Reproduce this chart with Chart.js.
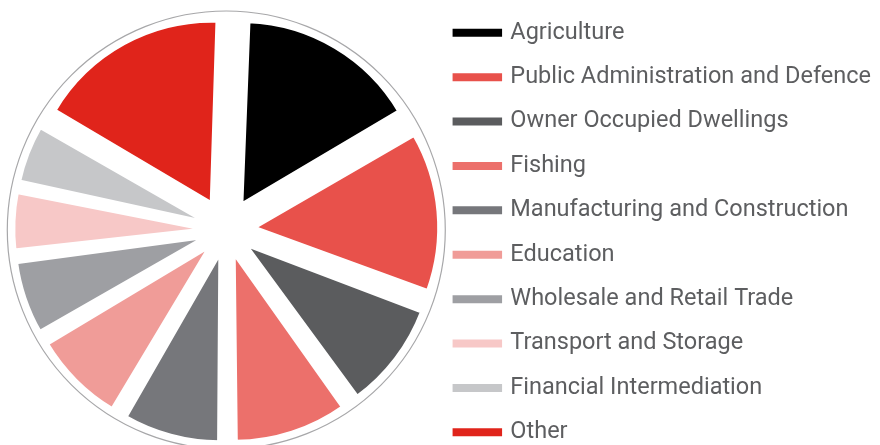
<!DOCTYPE html>
<html>
<head>
<meta charset="utf-8">
<script src="https://cdn.jsdelivr.net/npm/chart.js@4.4.1/dist/chart.umd.min.js"></script>
<style>
  html, body { margin: 0; padding: 0; background: #fff; overflow: hidden; }
  #wrap { position: relative; width: 880px; height: 445px; overflow: hidden; }
  #wrap canvas { position: absolute; left: 0; top: -5px; }
</style>
</head>
<body>
<div id="wrap"><canvas id="pie-chart" width="890" height="470"></canvas></div>
<script>
// GDP share by sector (%)
const sectorLabels = [
  "Agriculture",
  "Public Administration and Defence",
  "Owner Occupied Dwellings",
  "Fishing",
  "Manufacturing and Construction",
  "Education",
  "Wholesale and Retail Trade",
  "Transport and Storage",
  "Financial Intermediation",
  "Other",
];
const sectorShares = [16, 14.1, 9.4, 9.9, 8.5, 8.1, 6.5, 5.2, 5.2, 17.1];
const sectorColours = [
  "#000000",
  "#e8514b",
  "#5b5c5e",
  "#ec706b",
  "#76777b",
  "#f09c98",
  "#9e9fa3",
  "#f7c8c7",
  "#c6c7c9",
  "#e0241b",
];

const total = sectorShares.reduce((a, b) => a + b, 0);
const PUSH = 34; // how far slices are pushed out from the centre
const EDGE = 213; // outer edge of the slices
const RING = 219; // thin grey ring round the pie

// thin grey circle drawn round the whole pie
const outerRing = {
  id: "outerRing",
  beforeDatasetsDraw(chart) {
    const arc = chart.getDatasetMeta(0).data[0];
    if (!arc) return;
    const ctx = chart.ctx;
    ctx.save();
    ctx.beginPath();
    ctx.arc(arc.x, arc.y, RING, 0, Math.PI * 2);
    ctx.lineWidth = 1.2;
    ctx.strokeStyle = "#a7a7a9";
    ctx.stroke();
    ctx.restore();
  },
};

const pieCtx = document.getElementById("pie-chart").getContext("2d");

const pieChart = new Chart(pieCtx, {
  type: "pie",
  data: {
    labels: sectorLabels,
    datasets: [
      {
        data: sectorShares,
        backgroundColor: sectorColours,
        borderColor: "#ffffff",
        borderWidth: 4,
        // thin slices get pushed less so every outer arc ends on the same circle
        offset: (ctx) => {
          const angle = (ctx.raw / total) * Math.PI * 2;
          const fix = 1 - Math.sin(Math.min(Math.PI, angle));
          return (4 * PUSH) / (1 + fix);
        },
        hoverOffset: 0,
      },
    ],
  },
  options: {
    responsive: false,
    animation: false,
    rotation: 2,
    radius: EDGE - PUSH,
    layout: { padding: { left: 0, right: 9 } },
    plugins: {
      tooltip: { enabled: false },
      legend: {
        position: "right",
        align: "end",
        labels: {
          boxWidth: 44,
          boxHeight: 1,
          // row spacing comes from the line height, padding stays small
          padding: 2,
          color: "#5d5e60",
          font: { family: "Roboto", size: 23.5, lineHeight: "42.4px" },
          generateLabels: (chart) =>
            Chart.overrides.doughnut.plugins.legend.labels
              .generateLabels(chart)
              .map((item) => ({
                ...item,
                text: [item.text],
                strokeStyle: item.fillStyle,
                lineWidth: 7,
              })),
        },
      },
    },
  },
  plugins: [outerRing],
});
</script>
</body>
</html>
